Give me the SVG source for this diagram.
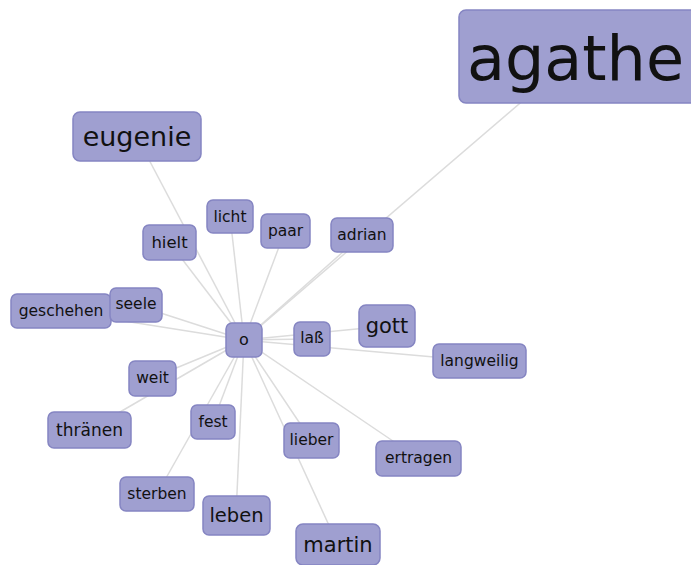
<svg xmlns="http://www.w3.org/2000/svg" width="691" height="565" viewBox="0 0 691 565">
<style>
.n rect{fill:#9f9fd0;stroke:#8585c2;stroke-width:1.5}
.n text{font-family:"DejaVu Sans",Verdana,sans-serif;fill:#111;text-anchor:middle}
#edges line{stroke:#dcdcdc;stroke-width:1.5}
</style>
<rect width="691" height="565" fill="#fff"/>
<g id="edges">
<line x1="244" y1="340" x2="575" y2="56"/>
<line x1="244" y1="340" x2="137" y2="137"/>
<line x1="244" y1="340" x2="230" y2="216"/>
<line x1="244" y1="340" x2="169" y2="242"/>
<line x1="244" y1="340" x2="285" y2="231"/>
<line x1="244" y1="340" x2="362" y2="235"/>
<line x1="244" y1="340" x2="61" y2="311"/>
<line x1="244" y1="340" x2="136" y2="305"/>
<line x1="244" y1="340" x2="312" y2="339"/>
<line x1="244" y1="340" x2="387" y2="326"/>
<line x1="244" y1="340" x2="479" y2="361"/>
<line x1="244" y1="340" x2="152" y2="378"/>
<line x1="244" y1="340" x2="89" y2="430"/>
<line x1="244" y1="340" x2="213" y2="422"/>
<line x1="244" y1="340" x2="311" y2="440"/>
<line x1="244" y1="340" x2="418" y2="458"/>
<line x1="244" y1="340" x2="157" y2="494"/>
<line x1="244" y1="340" x2="236" y2="515"/>
<line x1="244" y1="340" x2="338" y2="545"/>
</g>
<g id="agathe" class="n"><rect x="459" y="10" width="245" height="93" rx="7"/><text x="575.5" y="80" font-size="62">agathe</text></g>
<g id="eugenie" class="n"><rect x="73" y="112" width="128" height="49" rx="7"/><text x="137" y="146" font-size="27">eugenie</text></g>
<g id="licht" class="n"><rect x="207" y="200" width="46" height="33" rx="6"/><text x="230" y="222" font-size="15.5">licht</text></g>
<g id="hielt" class="n"><rect x="143" y="225" width="53" height="35" rx="6"/><text x="169.5" y="248" font-size="16.5">hielt</text></g>
<g id="paar" class="n"><rect x="261" y="214" width="49" height="34" rx="6"/><text x="285.5" y="236" font-size="15.5">paar</text></g>
<g id="adrian" class="n"><rect x="331" y="218" width="62" height="34" rx="6"/><text x="362" y="240" font-size="15.5">adrian</text></g>
<g id="geschehen" class="n"><rect x="11" y="294" width="100" height="34" rx="6"/><text x="61" y="316" font-size="15.5">geschehen</text></g>
<g id="seele" class="n"><rect x="110" y="288" width="52" height="34" rx="6"/><text x="136" y="309" font-size="15.5">seele</text></g>
<g id="o" class="n"><rect x="226" y="323" width="36" height="34" rx="6"/><text x="244" y="345" font-size="16">o</text></g>
<g id="lass" class="n"><rect x="294" y="322" width="36" height="34" rx="6"/><text x="312" y="343" font-size="15.5">laß</text></g>
<g id="gott" class="n"><rect x="359" y="305" width="56" height="42" rx="7"/><text x="387" y="333" font-size="21">gott</text></g>
<g id="langweilig" class="n"><rect x="433" y="344" width="93" height="34" rx="6"/><text x="479.5" y="366" font-size="15.5">langweilig</text></g>
<g id="weit" class="n"><rect x="129" y="361" width="47" height="35" rx="6"/><text x="152.5" y="383" font-size="15.5">weit</text></g>
<g id="thraenen" class="n"><rect x="48" y="412" width="83" height="36" rx="6"/><text x="89.5" y="436" font-size="17">thränen</text></g>
<g id="fest" class="n"><rect x="191" y="405" width="44" height="34" rx="6"/><text x="213" y="427" font-size="15.5">fest</text></g>
<g id="lieber" class="n"><rect x="284" y="423" width="55" height="35" rx="6"/><text x="311.5" y="445" font-size="15.5">lieber</text></g>
<g id="ertragen" class="n"><rect x="376" y="441" width="85" height="35" rx="6"/><text x="418.5" y="463" font-size="15.5">ertragen</text></g>
<g id="sterben" class="n"><rect x="120" y="477" width="74" height="34" rx="6"/><text x="157" y="499" font-size="15.5">sterben</text></g>
<g id="leben" class="n"><rect x="203" y="496" width="67" height="39" rx="6"/><text x="236.5" y="522" font-size="19.5">leben</text></g>
<g id="martin" class="n"><rect x="296" y="524" width="84" height="41" rx="7"/><text x="338" y="552" font-size="21">martin</text></g>
</svg>
